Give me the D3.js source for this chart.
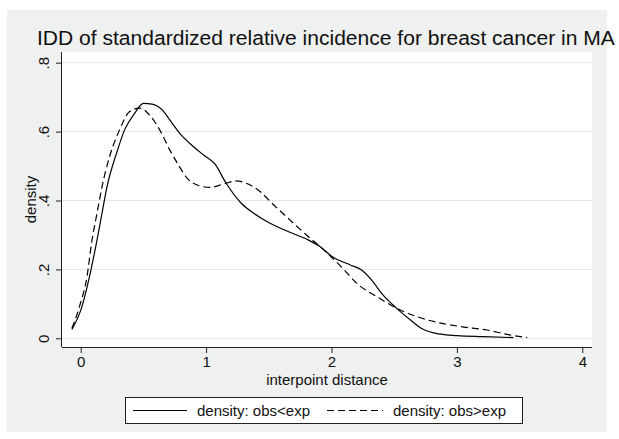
<!DOCTYPE html>
<html><head><meta charset="utf-8">
<script src="https://cdn.jsdelivr.net/npm/d3@7"></script>
<style>html,body{margin:0;padding:0;background:#fff;} svg{display:block;font-family:"Liberation Sans",Arial,Helvetica,sans-serif;}</style>
</head><body>
<svg id="c" width="619" height="439"></svg>
<script>
const title = "IDD of standardized relative incidence for breast cancer in MA";
const xLabel = "interpoint distance";
const yLabel = "density";
const xTicks = [0, 1, 2, 3, 4];
const xTickLabels = ["0", "1", "2", "3", "4"];
const yTicks = [0, 0.2, 0.4, 0.6, 0.8];
const yTickLabels = ["0", ".2", ".4", ".6", ".8"];
const seriesNames = ["density: obs<exp", "density: obs>exp"];

// density: obs<exp (solid)
const distLess = [-0.07,0.01,0.07,0.13,0.17,0.21,0.29,0.35,0.43,0.50,0.57,0.65,0.71,0.79,0.90,0.98,1.07,1.16,1.28,1.38,1.51,1.64,1.80,1.91,2.01,2.15,2.24,2.32,2.41,2.52,2.63,2.73,2.87,3.00,3.21,3.45];
const densLess = [0.026,0.092,0.179,0.285,0.363,0.440,0.542,0.605,0.653,0.682,0.680,0.663,0.634,0.595,0.556,0.532,0.506,0.450,0.392,0.363,0.334,0.312,0.288,0.266,0.236,0.213,0.198,0.169,0.126,0.087,0.053,0.026,0.012,0.008,0.005,0.002];
// density: obs>exp (dashed)
const distMore = [-0.07,-0.01,0.05,0.09,0.13,0.17,0.23,0.31,0.39,0.47,0.55,0.63,0.71,0.78,0.85,0.93,1.03,1.14,1.24,1.32,1.43,1.54,1.67,1.80,1.94,2.09,2.20,2.36,2.52,2.68,2.87,3.03,3.24,3.42,3.56];
const densMore = [0.029,0.092,0.179,0.285,0.363,0.440,0.527,0.605,0.658,0.668,0.648,0.605,0.547,0.503,0.464,0.445,0.438,0.448,0.457,0.450,0.426,0.387,0.343,0.300,0.256,0.203,0.160,0.121,0.087,0.063,0.044,0.034,0.024,0.010,0.002];

const svg = d3.select("#c");
const plot = {left: 62, right: 592, top: 52, bottom: 347};

// graph region
svg.append("rect").attr("x", 7).attr("y", 10).attr("width", 600).attr("height", 422).attr("fill", "#eff0f0");
// plot region
svg.append("rect").attr("x", plot.left).attr("y", plot.top).attr("width", plot.right - plot.left).attr("height", plot.bottom - plot.top).attr("fill", "#ffffff");

const x = d3.scaleLinear().domain([0, 4]).range([80.7, 582.3]);
const y = d3.scaleLinear().domain([0, 0.8]).range([338.3, 62.7]);

// gridlines
svg.append("g").selectAll("line").data(yTicks).join("line")
  .attr("x1", plot.left).attr("x2", plot.right)
  .attr("y1", d => y(d)).attr("y2", d => y(d))
  .attr("stroke", "#e6e6e6").attr("stroke-width", 1);

// x axis
const xAxis = d3.axisBottom(x).tickValues(xTicks).tickFormat((d, i) => xTickLabels[i]).tickSize(6).tickSizeOuter(0).tickPadding(3);
const gx = svg.append("g").attr("transform", `translate(0,${plot.bottom})`).call(xAxis);
gx.select(".domain").attr("d", `M${plot.left},0.5H${plot.right}`).attr("stroke", "#222");
gx.selectAll(".tick line").attr("stroke", "#222");
gx.selectAll(".tick text").attr("font-size", 15).attr("fill", "#111").attr("font-family", "Liberation Sans, Arial, sans-serif");

// y axis
const yAxis = d3.axisLeft(y).tickValues(yTicks).tickFormat((d, i) => yTickLabels[i]).tickSize(6).tickSizeOuter(0);
const gy = svg.append("g").attr("transform", `translate(${plot.left},0)`).call(yAxis);
gy.select(".domain").attr("d", `M-0.5,${plot.top}V${plot.bottom}`).attr("stroke", "#222");
gy.selectAll(".tick line").attr("stroke", "#222");
gy.selectAll(".tick text").attr("font-size", 15).attr("fill", "#111")
  .attr("font-family", "Liberation Sans, Arial, sans-serif")
  .attr("x", null).attr("dy", null)
  .attr("text-anchor", "middle")
  .attr("transform", "translate(-13,0) rotate(-90)");

// axis titles
svg.append("text").attr("x", (plot.left + plot.right) / 2).attr("y", 385).attr("text-anchor", "middle")
  .attr("font-size", 15).attr("fill", "#111").text(xLabel);
svg.append("text").attr("transform", `translate(36,${(plot.top + plot.bottom) / 2}) rotate(-90)`).attr("text-anchor", "middle")
  .attr("font-size", 15).attr("fill", "#111").text(yLabel);

// title
const t = svg.append("text").attr("x", 37).attr("y", 45).attr("font-size", 21).attr("fill", "#111").text(title);
const tw = t.node().getComputedTextLength();
t.attr("font-size", 21 * 578 / tw);

// lines
const line = d3.line().x(d => x(d[0])).y(d => y(d[1])).curve(d3.curveMonotoneX);
const lessPts = distLess.map((d, i) => [d, densLess[i]]);
const morePts = distMore.map((d, i) => [d, densMore[i]]);
svg.append("path").attr("d", line(lessPts)).attr("fill", "none").attr("stroke", "#000").attr("stroke-width", 1.2);
svg.append("path").attr("d", line(morePts)).attr("fill", "none").attr("stroke", "#000").attr("stroke-width", 1.2).attr("stroke-dasharray", "7,4");

// legend
const lg = svg.append("g");
lg.append("rect").attr("x", 125.5).attr("y", 397.5).attr("width", 397).attr("height", 26).attr("fill", "#fff").attr("stroke", "#222").attr("stroke-width", 1);
const legendItems = [
  {name: seriesNames[0], x0: 133, x1: 187, tx: 197, dash: null},
  {name: seriesNames[1], x0: 327, x1: 383, tx: 393, dash: "7,4"}
];
legendItems.forEach(it => {
  lg.append("line").attr("x1", it.x0).attr("x2", it.x1).attr("y1", 410.5).attr("y2", 410.5)
    .attr("stroke", "#000").attr("stroke-width", 1.2).attr("stroke-dasharray", it.dash);
  lg.append("text").attr("x", it.tx).attr("y", 416).attr("font-size", 15).attr("fill", "#111").text(it.name);
});
</script>
</body></html>
